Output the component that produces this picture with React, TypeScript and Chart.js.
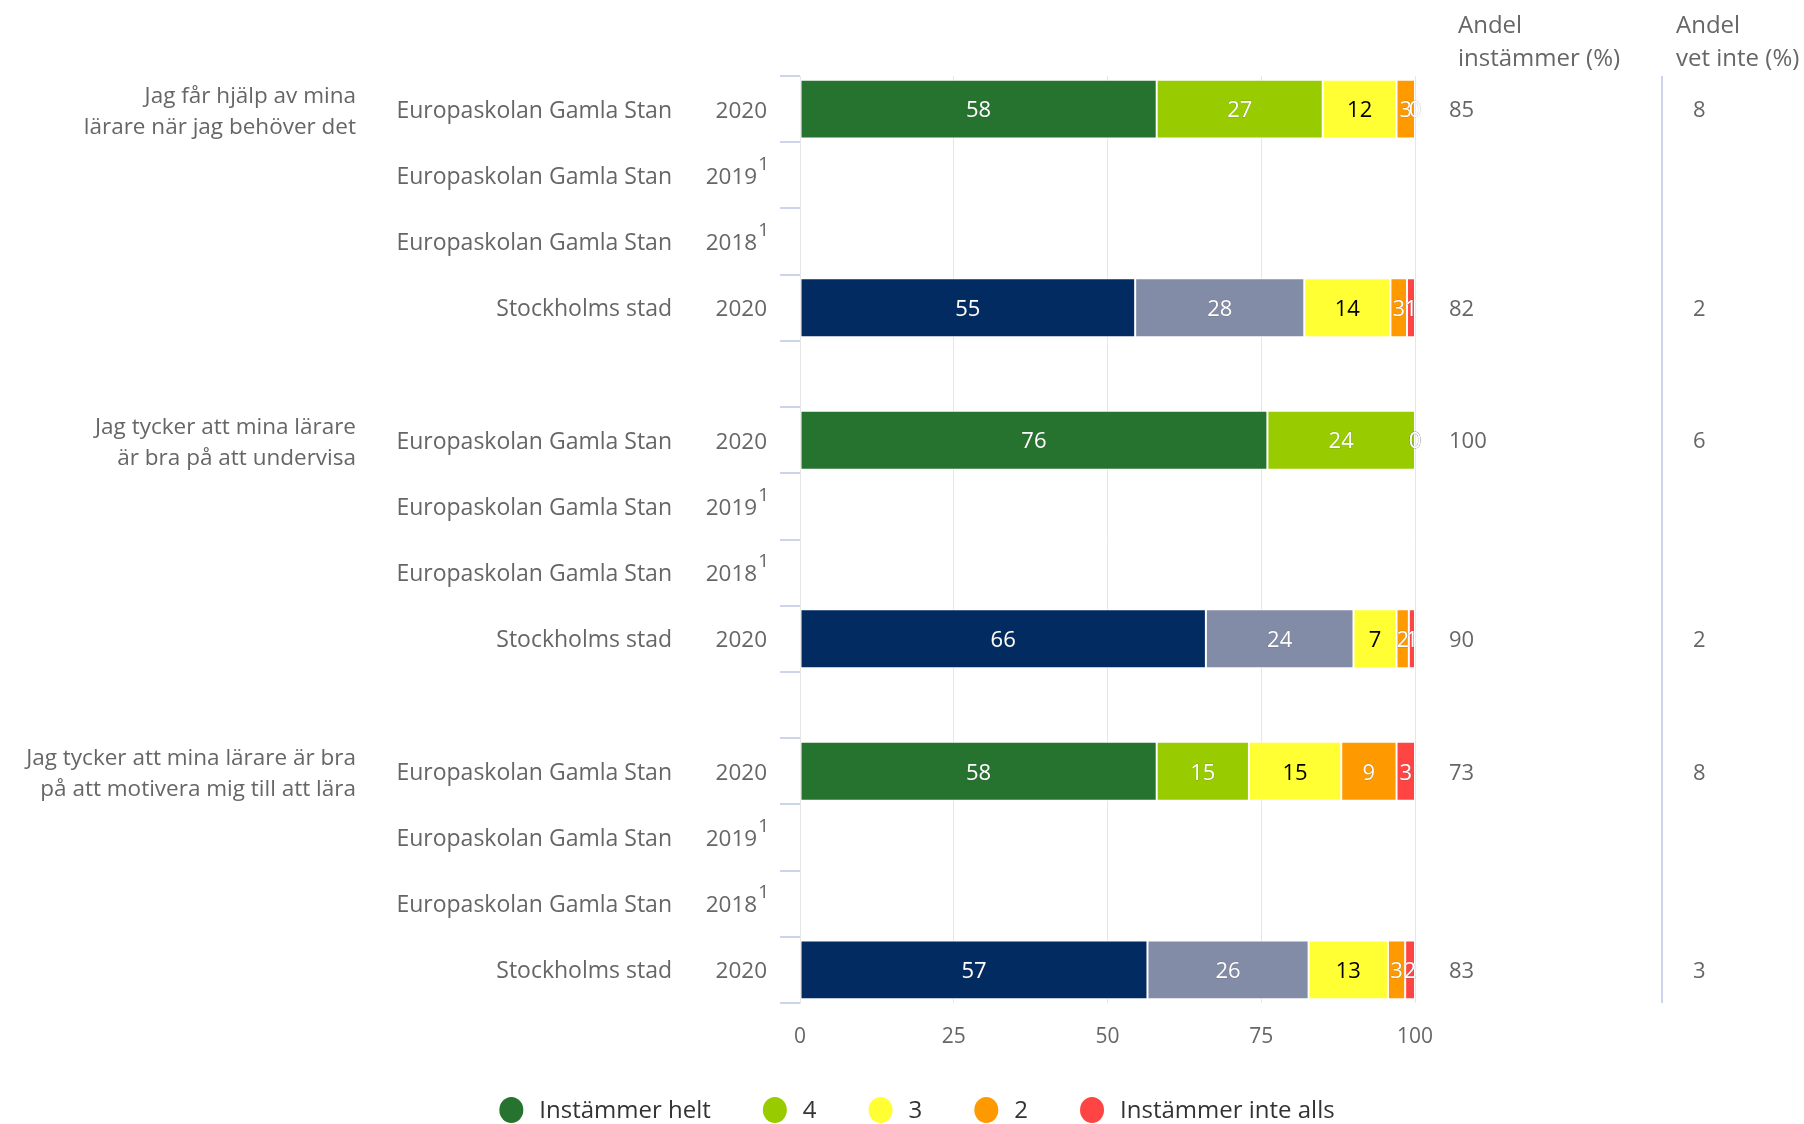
import { useEffect, useRef } from "react";
import { Chart, registerables } from "chart.js";

Chart.register(...registerables);

const FONT = "'Open Sans', Lato, sans-serif";

// ---- data ----
const groupLabels = [
  ["Jag får hjälp av mina", "lärare när jag behöver det"],
  ["Jag tycker att mina lärare", "är bra på att undervisa"],
  ["Jag tycker att mina lärare är bra", "på att motivera mig till att lära"],
];
const groupStartIndex = [0, 5, 10];

const categories = [
  "Europaskolan Gamla Stan", "Europaskolan Gamla Stan", "Europaskolan Gamla Stan", "Stockholms stad", "",
  "Europaskolan Gamla Stan", "Europaskolan Gamla Stan", "Europaskolan Gamla Stan", "Stockholms stad", "",
  "Europaskolan Gamla Stan", "Europaskolan Gamla Stan", "Europaskolan Gamla Stan", "Stockholms stad",
];
const years = [
  "2020", "2019", "2018", "2020", "",
  "2020", "2019", "2018", "2020", "",
  "2020", "2019", "2018", "2020",
];
const footnotes = [
  "", "1", "1", "", "",
  "", "1", "1", "", "",
  "", "1", "1", "",
];

const seriesNames = ["Instämmer helt", "4", "3", "2", "Instämmer inte alls"];
// shares (%); labels show them rounded
const instammerHelt = [58, null, null, 54.5, null, 76, null, null, 66, null, 58, null, null, 56.5];
const varde4 = [27, null, null, 27.5, null, 24, null, null, 24, null, 15, null, null, 26.2];
const varde3 = [12, null, null, 14, null, 0, null, null, 7, null, 15, null, null, 12.9];
const varde2 = [3, null, null, 2.7, null, 0, null, null, 2, null, 9, null, null, 2.8];
const instammerInteAlls = [0, null, null, 1.3, null, 0, null, null, 1, null, 3, null, null, 1.6];

const andelInstammer = [85, null, null, 82, null, 100, null, null, 90, null, 73, null, null, 83];
const andelVetInte = [8, null, null, 2, null, 6, null, null, 2, null, 8, null, null, 3];

const xTickStep = 25;

const schoolColors = ["#26732f", "#99cc00", "#ffff33", "#ff9900", "#ff4444"];
const cityColors = ["#022b61", "#838ca6", "#ffff33", "#ff9900", "#ff4444"];
const labelColors = ["#ffffff", "#ffffff", "#000000", "#ffffff", "#ffffff"];

const seriesData = [instammerHelt, varde4, varde3, varde2, instammerInteAlls];

const TEXT = "#666666";

const labelPlugin = {
  id: "segLabels",
  afterDatasetsDraw(chart: any) {
    const ctx = chart.ctx;
    ctx.save();
    ctx.font = `22px ${FONT}`;
    ctx.textAlign = "center";
    ctx.textBaseline = "middle";
    ctx.lineJoin = "round";
    chart.data.datasets.forEach((ds: any, di: number) => {
      const meta = chart.getDatasetMeta(di);
      meta.data.forEach((el: any, i: number) => {
        const v = ds.data[i];
        if (v == null) return;
        const p = el.getProps(["x", "base", "y"], true);
        const tx = (p.x + p.base) / 2;
        const ty = p.y + 2;
        const txt = String(Math.round(v));
        if (labelColors[di] === "#ffffff") {
          ctx.strokeStyle = "rgba(90,90,90,0.35)";
          ctx.lineWidth = 0.8;
          ctx.strokeText(txt, tx, ty);
        }
        ctx.fillStyle = labelColors[di];
        ctx.fillText(txt, tx, ty);
      });
    });
    ctx.restore();
  },
};

const textPlugin = {
  id: "sideTexts",
  afterDraw(chart: any) {
    const ctx = chart.ctx;
    const ys = chart.scales.y;
    const area = chart.chartArea;
    ctx.save();
    ctx.textBaseline = "middle";

    // group labels
    ctx.font = `22.5px ${FONT}`;
    ctx.fillStyle = TEXT;
    ctx.textAlign = "right";
    groupLabels.forEach((lines, g) => {
      const cy = ys.getPixelForValue(groupStartIndex[g]);
      ctx.fillText(lines[0], 356, cy - 13);
      ctx.fillText(lines[1], 356, cy + 18);
    });

    // category & year labels
    categories.forEach((c, i) => {
      if (!c) return;
      const cy = ys.getPixelForValue(i) + 2;
      ctx.font = `23px ${FONT}`;
      ctx.textAlign = "right";
      ctx.fillStyle = TEXT;
      ctx.fillText(c, 672, cy);
      const fn = footnotes[i];
      let right = 767;
      if (fn) {
        ctx.font = `19px ${FONT}`;
        const w = ctx.measureText(fn).width;
        ctx.fillText(fn, right + 2, cy - 13);
        right = right - w + 1;
      }
      ctx.font = `22.5px ${FONT}`;
      ctx.fillText(years[i], right, cy);
    });

    // right columns
    ctx.font = `22px ${FONT}`;
    ctx.textAlign = "left";
    andelInstammer.forEach((v, i) => {
      if (v == null) return;
      ctx.fillText(String(v), 1449, ys.getPixelForValue(i) + 2);
    });
    andelVetInte.forEach((v, i) => {
      if (v == null) return;
      ctx.fillText(String(v), 1693, ys.getPixelForValue(i) + 2);
    });

    // headers
    ctx.font = `24px ${FONT}`;
    ctx.textBaseline = "alphabetic";
    ctx.fillText("Andel", 1458, 33);
    ctx.fillText("instämmer (%)", 1458, 66);
    ctx.fillText("Andel", 1676, 33);
    ctx.fillText("vet inte (%)", 1676, 66);

    // separator line
    ctx.strokeStyle = "#ccd6eb";
    ctx.lineWidth = 2;
    ctx.beginPath();
    ctx.moveTo(1662, area.top);
    ctx.lineTo(1662, area.bottom);
    ctx.stroke();

    // legend
    ctx.font = `24px ${FONT}`;
    ctx.textBaseline = "middle";
    const r = 12;
    const gap = 16;
    const itemGap = 52;
    const widths = seriesNames.map((n) => 2 * r + gap + ctx.measureText(n).width);
    const total = widths.reduce((a, b) => a + b, 0) + itemGap * (widths.length - 1);
    let x = 917 - total / 2;
    const ly = 1110;
    seriesNames.forEach((n, k) => {
      ctx.fillStyle = schoolColors[k];
      ctx.beginPath();
      ctx.ellipse(x + r, ly, r, r + 1, 0, 0, Math.PI * 2);
      ctx.fill();
      ctx.fillStyle = "#333333";
      ctx.textAlign = "left";
      ctx.fillText(n, x + 2 * r + gap, ly + 1);
      x += widths[k] + itemGap;
    });

    ctx.restore();
  },
};

export default function App() {
  const ref = useRef<HTMLCanvasElement | null>(null);

  useEffect(() => {
    if (!ref.current) return;
    Chart.defaults.font.family = FONT;
    const isCity = categories.map((c) => c === "Stockholms stad");
    const chart = new Chart(ref.current, {
      type: "bar",
      data: {
        labels: categories.map((c, i) => (c ? `${c} ${years[i]}` : `spacer${i}`)),
        datasets: seriesNames.map((name, k) => ({
          label: name,
          data: seriesData[k],
          backgroundColor: isCity.map((city) => (city ? cityColors[k] : schoolColors[k])),
          borderColor: "#ffffff",
          borderWidth: 1,
          borderSkipped: false,
          categoryPercentage: 0.89,
          barPercentage: 1,
        })),
      },
      options: {
        indexAxis: "y",
        responsive: false,
        animation: false,
        layout: { padding: { left: 780, right: 389, top: 76, bottom: 71 } },
        plugins: {
          legend: { display: false },
          tooltip: { enabled: false },
        },
        scales: {
          x: {
            stacked: true,
            min: 0,
            max: 100,
            ticks: { stepSize: xTickStep, color: TEXT, font: { size: 21, family: FONT }, padding: 21 },
            grid: { color: "#e6e6e6", drawTicks: false, lineWidth: 1 },
            border: { display: false },
            afterFit: (s: any) => {
              s.height = 50;
            },
          },
          y: {
            stacked: true,
            offset: true,
            ticks: { display: false },
            grid: {
              offset: true,
              drawOnChartArea: false,
              drawTicks: true,
              tickLength: 20,
              color: "#ccd6eb",
              lineWidth: 2,
            },
            border: { display: true, color: "#e6e6e6", width: 1 },
            afterFit: (s: any) => {
              s.width = 20;
            },
          },
        },
      } as any,
      plugins: [labelPlugin, textPlugin],
    });
    return () => chart.destroy();
  }, []);

  return (
    <div style={{ position: "absolute", left: 0, top: 0, width: 1804, height: 1124, overflow: "hidden", background: "#fff" }}>
      <canvas ref={ref} width={1804} height={1124} style={{ display: "block" }} />
    </div>
  );
}
